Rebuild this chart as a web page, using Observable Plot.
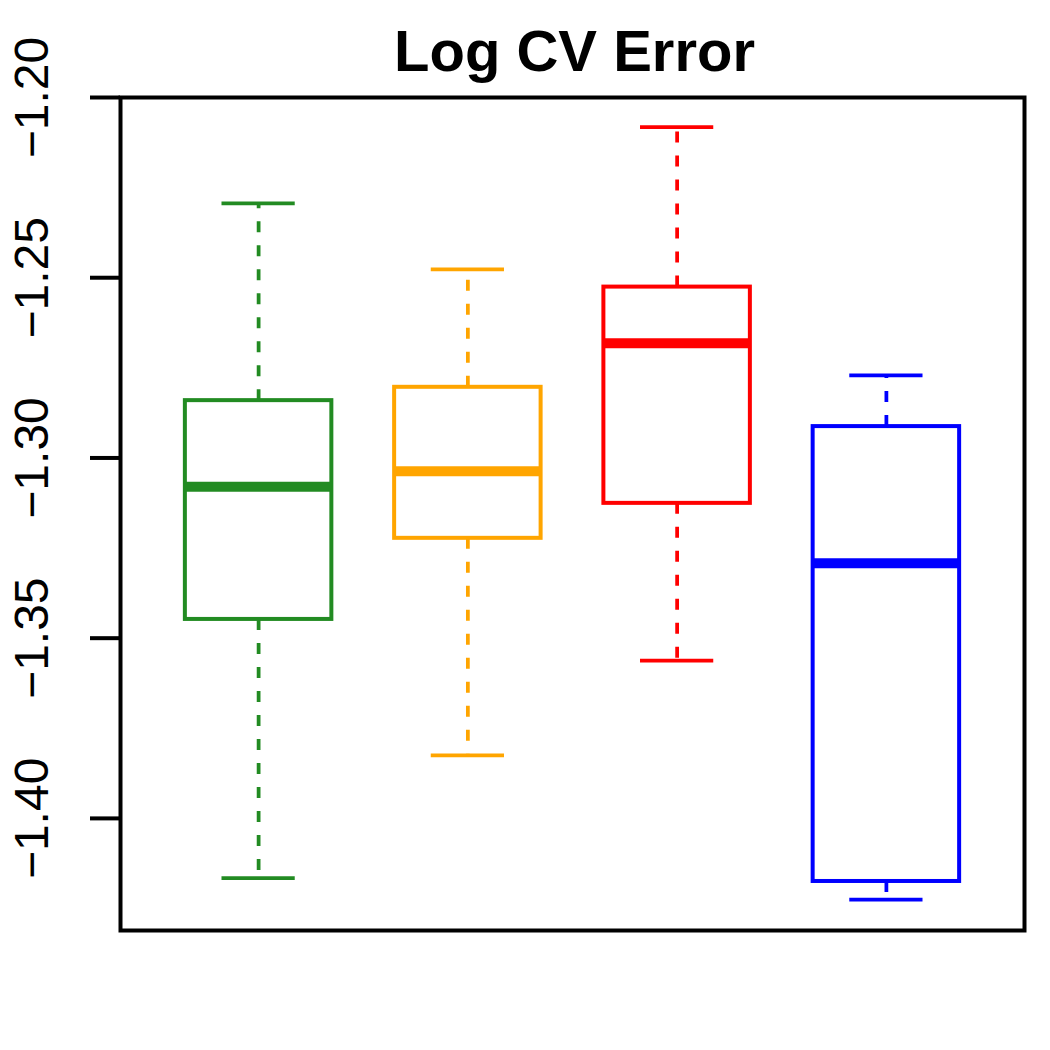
<!DOCTYPE html>
<html>
<head>
<meta charset="utf-8">
<script src="https://cdn.jsdelivr.net/npm/d3@7"></script>
<script src="https://cdn.jsdelivr.net/npm/@observablehq/plot@0.6"></script>
<style>
  html, body { margin: 0; padding: 0; background: #fff; }
  svg { display: block; }
</style>
</head>
<body>
<div id="chart"></div>
<script>
const groups = ["1", "2", "3", "4"];
const colors = ["forestgreen", "orange", "red", "blue"];
const whiskerHigh = [-1.2294, -1.2477, -1.2082, -1.2771];
const q3 = [-1.2841, -1.2804, -1.2526, -1.2913];
const median = [-1.3080, -1.3037, -1.2682, -1.3292];
const q1 = [-1.3448, -1.3223, -1.3126, -1.4175];
const whiskerLow = [-1.4166, -1.3825, -1.3562, -1.4225];
const yTicks = [-1.40, -1.35, -1.30, -1.25, -1.20];
const title = "Log CV Error";

const data = groups.map((g, i) => ({
  pos: i + 1,
  color: colors[i],
  hi: whiskerHigh[i], q3: q3[i], med: median[i], q1: q1[i], lo: whiskerLow[i]
}));

const boxHalf = 0.35;
const capHalf = 0.175;
const font = "'Liberation Sans', Arial, Helvetica, sans-serif";

const chart = Plot.plot({
  width: 1050,
  height: 1050,
  marginLeft: 120,
  marginRight: 26,
  marginTop: 97,
  marginBottom: 120,
  style: { fontFamily: font, background: "#fff" },
  x: { domain: [0.34, 4.66], axis: null },
  y: { domain: [-1.4311, -1.20] },
  color: { type: "identity" },
  marks: [
    // whiskers
    Plot.ruleX(data, { x: "pos", y1: "q3", y2: "hi", stroke: "color", strokeWidth: 3.75, strokeDasharray: "11,13" }),
    Plot.ruleX(data, { x: "pos", y1: "q1", y2: "lo", stroke: "color", strokeWidth: 3.75, strokeDasharray: "11,13" }),
    // caps
    Plot.ruleY(data, { y: "hi", x1: d => d.pos - capHalf, x2: d => d.pos + capHalf, stroke: "color", strokeWidth: 3.75 }),
    Plot.ruleY(data, { y: "lo", x1: d => d.pos - capHalf, x2: d => d.pos + capHalf, stroke: "color", strokeWidth: 3.75 }),
    // boxes
    Plot.rect(data, { x1: d => d.pos - boxHalf, x2: d => d.pos + boxHalf, y1: "q1", y2: "q3", fill: "white", stroke: "color", strokeWidth: 4 }),
    // medians
    Plot.ruleY(data, { y: "med", x1: d => d.pos - boxHalf, x2: d => d.pos + boxHalf, stroke: "color", strokeWidth: 10 }),
    // frame
    Plot.frame({ stroke: "black", strokeWidth: 4 }),
    // y axis
    Plot.axisY({
      ticks: yTicks,
      tickFormat: d3.format(".2f"),
      tickSize: 30,
      tickRotate: -90,
      tickPadding: 43,
      fontSize: 48,
      stroke: "black",
      strokeWidth: 4,
      fill: "black",
      label: null
    }),
    // title
    Plot.text([title], {
      text: d => d,
      frameAnchor: "top",
      dy: -27,
      dx: 2,
      lineAnchor: "bottom",
      fontSize: 58,
      fontWeight: "bold",
      fill: "black"
    })
  ]
});
document.getElementById("chart").appendChild(chart);
</script>
</body>
</html>
